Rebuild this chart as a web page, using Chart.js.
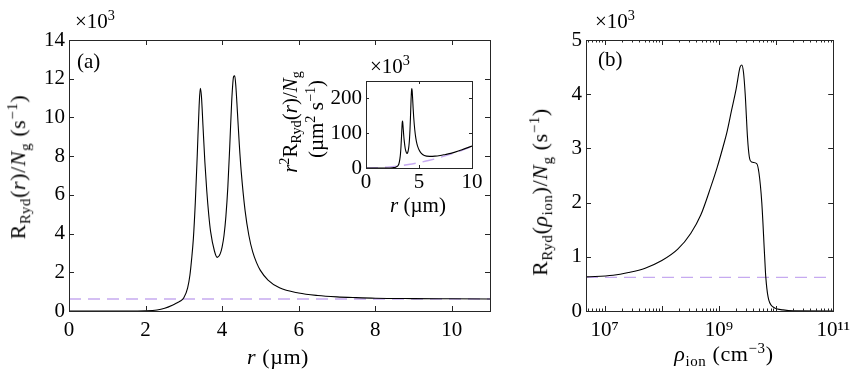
<!DOCTYPE html>
<html>
<head>
<meta charset="utf-8">
<script src="https://cdn.jsdelivr.net/npm/chart.js@4"></script>
<style>
  body { margin: 0; background: #fff; }
  #wrap { position: relative; width: 857px; height: 374px; overflow: hidden; font-family: 'Liberation Serif', serif; color: #000; }
  canvas { position: absolute; }
  .lbl { position: absolute; font-size: 21px; white-space: nowrap; line-height: 1; }
  .ttl { font-size: 22px; letter-spacing: 0.6px; }
  .rot { transform: translate(-50%, -50%) rotate(-90deg); }
  .ctr { transform: translate(-50%, -50%); }
  sub { font-size: 0.68em; vertical-align: -0.3em; }
  sup { font-size: 0.68em; vertical-align: 0.55em; }
</style>
</head>
<body>
<div id="wrap">
  <canvas id="chartA" width="500" height="374" style="left:0;top:0"></canvas>
  <canvas id="chartInset" width="210" height="150" style="left:280px;top:55px"></canvas>
  <canvas id="chartB" width="337" height="374" style="left:520px;top:0"></canvas>

  <div class="lbl" style="left:75px;top:8px">×10<sup>3</sup></div>
  <div class="lbl" style="left:77px;top:51px">(a)</div>
  <div class="lbl ttl rot" style="left:19px;top:167px">R<sub>Ryd</sub>(<i>r</i>)/<i>N</i><sub>g</sub> (s<sup>−1</sup>)</div>
  <div class="lbl ttl ctr" style="left:278px;top:357px"><i>r</i> (µm)</div>

  <div class="lbl" style="left:370px;top:53px">×10<sup>3</sup></div>
  <div class="lbl rot" style="left:290px;top:122px"><i>r</i><sup>2</sup>R<sub>Ryd</sub>(<i>r</i>)/<i>N</i><sub>g</sub></div>
  <div class="lbl rot" style="left:315px;top:119px">(µm<sup>2</sup> s<sup>−1</sup>)</div>
  <div class="lbl ctr" style="left:418px;top:205px"><i>r</i> (µm)</div>

  <div class="lbl" style="left:595px;top:8px">×10<sup>3</sup></div>
  <div class="lbl" style="left:598px;top:49px">(b)</div>
  <div class="lbl ttl rot" style="left:541px;top:192px">R<sub>Ryd</sub>(<i>ρ</i><sub>ion</sub>)/<i>N</i><sub>g</sub> (s<sup>−1</sup>)</div>
  <div class="lbl ttl ctr" style="left:724px;top:355px"><i>ρ</i><sub>ion</sub> (cm<sup>−3</sup>)</div>
</div>
<script>
// panel (a): rate vs distance, units of 10^3 s^-1
const rA = [0, 1.5, 2.0, 2.3, 2.5, 2.7, 2.85, 2.9, 3.0, 3.1, 3.16, 3.2, 3.25, 3.3, 3.35, 3.4, 3.43, 3.46, 3.5, 3.55, 3.6, 3.65, 3.7, 3.8, 3.87, 3.95, 4.0, 4.05, 4.1, 4.15, 4.2, 4.25, 4.3, 4.33, 4.36, 4.4, 4.45, 4.5, 4.6, 4.7, 4.8, 4.9, 5.0, 5.2, 5.5, 6.0, 6.5, 7.0, 7.5, 8.0, 9.0, 10, 11];
const rateA = [0, 0, 0.01, 0.05, 0.14, 0.3, 0.45, 0.5, 0.68, 1.2, 1.86, 2.6, 3.75, 5.6, 8.0, 10.6, 11.5, 11.1, 9.6, 7.7, 6.2, 5.0, 4.1, 3.1, 2.77, 2.95, 3.3, 3.9, 4.9, 6.4, 8.5, 10.8, 12.1, 12.15, 11.6, 10.3, 8.6, 7.2, 5.2, 3.9, 3.05, 2.5, 2.1, 1.6, 1.2, 0.93, 0.8, 0.73, 0.69, 0.66, 0.64, 0.63, 0.62];
const baseR = [0, 11];
const baseA = [0.62, 0.62];

// inset: r^2 * rate, units of 10^3 um^2 s^-1
const rIn = [0, 2.0, 2.5, 2.8, 3.0, 3.1, 3.2, 3.25, 3.3, 3.35, 3.4, 3.43, 3.46, 3.5, 3.55, 3.6, 3.7, 3.8, 3.87, 3.95, 4.0, 4.05, 4.1, 4.15, 4.2, 4.25, 4.3, 4.33, 4.36, 4.4, 4.45, 4.5, 4.6, 4.7, 4.8, 4.9, 5.0, 5.2, 5.5, 6.0, 6.5, 7.0, 7.5, 8.0, 9.0, 10];
const rateIn = [0, 0.04, 0.9, 2.4, 6, 11.5, 27, 40, 61, 90, 122, 135, 133, 118, 97, 80, 56, 45, 41.5, 46, 53, 64, 82, 110, 150, 195, 224, 228, 220, 199, 170, 146, 110, 86, 70, 60, 52.5, 43, 36, 33.5, 34, 36, 39, 42, 52, 63];
const baseInR = [0, 1, 2, 3, 4, 5, 6, 7, 8, 9, 10];
const baseIn = [0, 0.6, 2.5, 5.6, 9.9, 15.5, 22.3, 30.4, 39.7, 50.2, 62];

// panel (b): rate vs ion density (cm^-3)
const rho = [4.7e6, 1.4e7, 2.6e7, 5.1e7, 1.0e8, 1.9e8, 3.2e8, 4.8e8, 7.2e8, 9.3e8, 1.23e9, 1.38e9, 1.66e9, 2.0e9, 2.34e9, 2.51e9, 2.69e9, 2.88e9, 3.16e9, 3.39e9, 3.72e9, 4.57e9, 5.01e9, 5.62e9, 6.31e9, 6.6e9, 7.24e9, 8.7e9, 1.32e10, 2.0e10, 1.0e11];
const rateB = [0.63, 0.66, 0.71, 0.79, 0.93, 1.14, 1.43, 1.77, 2.29, 2.65, 3.1, 3.3, 3.7, 4.1, 4.5, 4.54, 4.4, 4.0, 3.2, 2.85, 2.75, 2.72, 2.55, 2.0, 1.0, 0.63, 0.26, 0.08, 0.02, 0.003, 0];
const baseRho = [4.7e6, 1e11];
const baseB = [0.62, 0.62];

const supDigits = { 7: '⁷', 9: '⁹', 11: '¹¹' };

const FONT = { family: 'Liberation Serif', size: 21 };
const AXIS = '#262626';
const DASH = '#c6aaf0';

const pts = (xs, ys) => xs.map((x, i) => ({ x, y: ys[i] }));

// MATLAB-like box with inward ticks on all four sides
const boxTicks = {
  id: 'boxTicks',
  afterDraw(chart, args, opts) {
    const { ctx, chartArea: a } = chart;
    const len = opts.len || 5;
    ctx.save();
    ctx.strokeStyle = AXIS;
    ctx.lineWidth = 1;
    Object.values(chart.scales).forEach(s => {
      s.ticks.forEach(t => {
        const l = t.major === false ? len * 0.5 : len;
        const p = Math.round(s.getPixelForValue(t.value)) + 0.5;
        ctx.beginPath();
        if (s.isHorizontal()) {
          if (p < a.left || p > a.right + 1) return;
          ctx.moveTo(p, a.bottom); ctx.lineTo(p, a.bottom - l);
          ctx.moveTo(p, a.top); ctx.lineTo(p, a.top + l);
        } else {
          if (p < a.top || p > a.bottom + 1) return;
          ctx.moveTo(a.left, p); ctx.lineTo(a.left + l, p);
          ctx.moveTo(a.right, p); ctx.lineTo(a.right - l, p);
        }
        ctx.stroke();
      });
    });
    ctx.strokeRect(Math.round(a.left) + 0.5, Math.round(a.top) + 0.5,
      Math.round(a.right - a.left), Math.round(a.bottom - a.top));
    ctx.restore();
  }
};

function lineSet(data, dashed) {
  return {
    data,
    borderColor: dashed ? DASH : '#000',
    borderWidth: dashed ? 1.4 : 1.1,
    borderDash: dashed ? [12, 7] : [],
    pointRadius: 0,
    fill: false,
    cubicInterpolationMode: 'monotone'
  };
}

function makeChart(id, datasets, o) {
  return new Chart(document.getElementById(id), {
    type: 'line',
    data: { datasets },
    plugins: [boxTicks],
    options: {
      responsive: false,
      animation: false,
      devicePixelRatio: 1,
      layout: { padding: o.padding },
      plugins: { legend: { display: false }, tooltip: { enabled: false }, boxTicks: { len: o.tickLen || 5 } },
      scales: {
        x: Object.assign({
          type: 'linear',
          grid: { display: false, drawTicks: false },
          border: { display: false },
          afterFit: s => { s.height = o.xh; },
        }, o.x, { ticks: Object.assign({ font: FONT, color: '#000', maxRotation: 0, autoSkip: false, padding: o.xpad, includeBounds: false }, o.x.ticks) }),
        y: Object.assign({
          type: 'linear',
          grid: { display: false, drawTicks: false },
          border: { display: false },
          afterFit: s => { s.width = o.yw; },
        }, o.y, { ticks: Object.assign({ font: FONT, color: '#000', padding: 4, includeBounds: false }, o.y.ticks) })
      }
    }
  });
}

makeChart('chartA', [lineSet(pts(rA, rateA), false), lineSet(pts(baseR, baseA), true)], {
  padding: { top: 40, right: 10, left: 0, bottom: 0 },
  xh: 63, yw: 69, xpad: 7,
  x: { min: 0, max: 11, ticks: { stepSize: 2 } },
  y: { min: 0, max: 14, ticks: { stepSize: 2 } }
});

makeChart('chartInset', [lineSet(pts(rIn, rateIn), false), lineSet(pts(baseInR, baseIn), true)], {
  padding: { top: 26, right: 18, left: 0, bottom: 0 },
  xh: 37, yw: 86, xpad: 2, tickLen: 3,
  x: { min: 0, max: 10, ticks: { stepSize: 5 } },
  y: { min: 0, max: 250, ticks: { stepSize: 100 } }
});

makeChart('chartB', [lineSet(pts(rho, rateB), false), lineSet(pts(baseRho, baseB), true)], {
  padding: { top: 40, right: 19, left: 0, bottom: 0 },
  xh: 63, yw: 66, xpad: 7,
  x: {
    type: 'logarithmic', min: 4.7e6, max: 1e11,
    afterBuildTicks: s => {
      const list = [];
      for (let e = 6; e <= 10; e++) {
        for (let m = 1; m <= 9; m++) {
          const v = m * Math.pow(10, e);
          if (v >= s.min && v <= s.max) list.push({ value: v, major: m === 1 });
        }
      }
      list.push({ value: 1e11, major: true });
      s.ticks = list;
    },
    ticks: {
      callback: v => {
        const e = Math.round(Math.log10(v));
        return (Math.abs(v - Math.pow(10, e)) < 1 && supDigits[e]) ? '10' + supDigits[e] : '';
      }
    }
  },
  y: { min: 0, max: 5, ticks: { stepSize: 1 } }
});
</script>
</body>
</html>
